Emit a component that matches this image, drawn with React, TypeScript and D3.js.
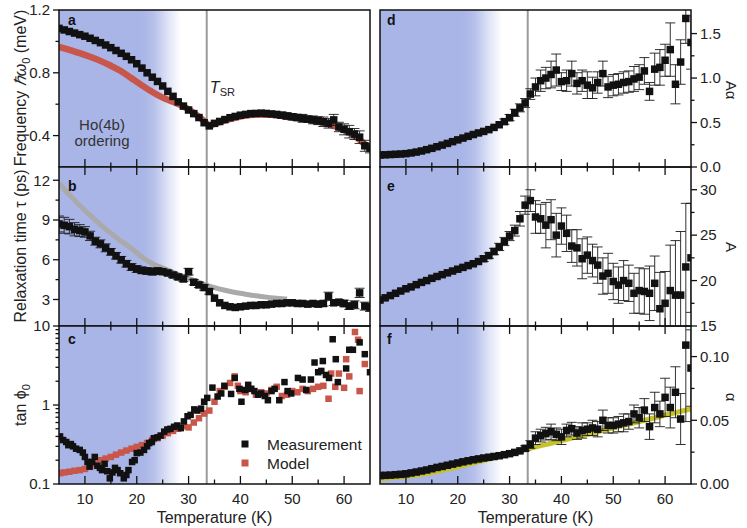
import React from 'react';
import * as d3 from 'd3';

// ---------- data ----------
const TEMPS = [5,6,7,8,9,10,11,12,13,14,15,16,17,18,19,20,21,22,23,24,25,26,27,28,29,30,31,32,33,34,35,36,37,38,39,40,41,42,43,44,45,46,47,48,49,50,51,52,53,54,55,56,57,58,59,60,61,62,63,64,65];

const A_MEAS = [1.083,1.073,1.063,1.053,1.043,1.033,1.020,1.006,0.992,0.977,
  0.960,0.942,0.924,0.905,0.883,0.858,0.830,0.800,0.772,0.745,
  0.716,0.682,0.650,0.615,0.588,0.563,0.540,0.515,0.482,0.462,
  0.478,0.490,0.502,0.514,0.522,0.530,0.535,0.540,0.541,0.543,
  0.541,0.538,0.535,0.530,0.525,0.520,0.515,0.510,0.505,0.500,
  0.495,0.488,0.478,0.500,0.455,0.440,0.425,0.410,0.390,0.335,0.320];
const A_ERR = [0.006,0.006,0.006,0.006,0.006,0.006,0.006,0.006,0.006,0.006,
  0.006,0.006,0.006,0.006,0.006,0.006,0.006,0.006,0.006,0.006,
  0.006,0.006,0.006,0.006,0.006,0.006,0.006,0.006,0.006,0.006,
  0.012,0.012,0.012,0.012,0.012,0.012,0.012,0.012,0.012,0.012,
  0.015,0.015,0.015,0.02,0.02,0.02,0.02,0.025,0.02,0.025,
  0.025,0.03,0.03,0.035,0.03,0.035,0.04,0.035,0.04,0.035,0.03];
const A_MODEL_T = [5,7,9,11,13,15,17,19,21,23,25,27,29,31,33,34,35,37,40,43,46,49,52,55,58,60,62,64,65];
const A_MODEL = [0.966,0.946,0.925,0.902,0.876,0.845,0.810,0.765,0.720,0.678,0.642,0.615,0.586,0.545,0.492,0.466,0.474,0.497,0.522,0.535,0.533,0.522,0.508,0.492,0.462,0.438,0.400,0.345,0.320];

const B_MEAS = [8.7,8.6,8.5,8.3,8.2,8.1,7.8,7.4,7.2,6.9,
  6.6,6.3,6.0,5.7,5.45,5.3,5.2,5.15,5.1,5.15,
  5.1,5.0,4.85,4.7,4.55,5.1,4.3,4.1,3.9,3.6,
  3.1,2.75,2.55,2.45,2.4,2.45,2.5,2.55,2.55,2.6,
  2.6,2.65,2.7,2.7,2.75,2.75,2.7,2.7,2.65,2.7,
  2.65,2.7,3.25,2.75,2.8,2.7,2.5,2.6,3.5,2.5,2.4];
const B_ERR = [0.6,0.6,0.55,0.5,0.45,0.4,0.35,0.3,0.3,0.3,
  0.25,0.25,0.25,0.25,0.25,0.25,0.25,0.25,0.25,0.25,
  0.2,0.2,0.2,0.2,0.2,0.25,0.2,0.2,0.2,0.2,
  0.15,0.15,0.15,0.15,0.15,0.15,0.15,0.15,0.15,0.15,
  0.15,0.15,0.15,0.15,0.15,0.15,0.15,0.15,0.15,0.15,
  0.2,0.2,0.3,0.2,0.2,0.25,0.25,0.3,0.35,0.3,0.3];
const B_MODEL_T = [5,7,9,11,13,15,17,19,21,23,25,27,29,31,33,35,37,39,41,43,45,47,49];
const B_MODEL = [11.8,10.9,10.1,9.35,8.65,8.0,7.4,6.85,6.2,5.7,5.38,5.05,4.73,4.45,4.15,3.9,3.7,3.53,3.4,3.28,3.18,3.1,3.03];

const C_MEAS_T = [5.2,5.8,6.4,6.8,7.3,7.7,8.3,9,9.6,10,
  10.5,10.9,11.4,11.9,12.4,12.9,13.3,13.8,14.3,14.8,
  15.3,15.8,16.3,16.8,17.5,18,18.4,19.1,19.6,20,
  20.7,21.4,22,22.4,22.9,23.3,24,24.6,25.3,25.9,
  26.5,27.2,27.8,28.5,29.1,29.8,30.4,31.1,31.7,32.4,
  33,33.6,34.6,35.6,36.3,36.9,38.2,38.9,39.8,40.2,
  40.9,41.5,42.1,42.7,43.4,44,44.7,45.3,46,46.6,
  47.5,48.5,49.1,49.8,51.1,52,52.7,53.6,54.3,55,
  55.6,55.9,56.5,57.1,57.8,58.4,58.8,60.4,61,61.7,
  63,64,65];
const C_MEAS = [0.40,0.36,0.34,0.31,0.32,0.30,0.28,0.27,0.25,0.22,
  0.19,0.166,0.19,0.22,0.17,0.16,0.15,0.18,0.145,0.118,
  0.14,0.16,0.15,0.137,0.118,0.13,0.15,0.19,0.2,0.246,
  0.25,0.27,0.3,0.33,0.34,0.38,0.39,0.41,0.46,0.49,
  0.5,0.53,0.55,0.51,0.62,0.72,0.75,0.88,0.85,0.90,
  1.1,1.23,1.66,1.28,1.4,1.75,1.38,2.2,1.6,1.1,
  1.55,1.8,1.6,1.5,1.35,1.4,1.3,1.15,1.5,1.6,
  1.15,1.95,1.5,1.4,2.2,2.1,1.55,2.1,3.45,2.6,
  2.7,3.6,2.4,2.2,6.8,3.8,1.95,2.9,5.0,5.0,
  6.2,4.4,2.6];
const C_MODEL_T = [5.2,6,7,8,9,10,11,12,13,14,
  15,16,17,18,19,20,21,22,23,24,
  25,26,27,28,29,30,31,32,33,34,
  35,36,37,38,38.9,39.5,40,
  41,42,43,44,45,46,47,48,49,50,51,52,53,54,55,56,57,
  57.5,58.3,59,60,60.4,61,62.1,62.7,63,64];
const C_MODEL = [0.137,0.14,0.143,0.147,0.15,0.155,0.165,0.18,0.2,0.21,
  0.22,0.235,0.25,0.265,0.28,0.295,0.31,0.33,0.36,0.38,
  0.41,0.44,0.47,0.5,0.54,0.52,0.6,0.68,0.78,0.85,
  1.1,1.5,1.7,1.9,2.3,1.75,1.5,
  1.45,1.6,1.35,1.45,1.4,1.55,1.7,1.3,1.35,1.5,1.45,1.6,1.5,1.6,1.7,1.75,1.2,
  2.5,1.7,2.5,1.65,3.8,2.3,8.4,6.7,1.5,3.3];

const D_MEAS = [0.135,0.137,0.14,0.143,0.146,0.15,0.158,0.168,0.18,0.195,
  0.21,0.228,0.246,0.265,0.285,0.305,0.325,0.345,0.365,0.383,
  0.40,0.42,0.445,0.475,0.51,0.555,0.61,0.665,0.72,0.82,
  0.9,0.97,1.0,1.04,1.09,0.96,0.97,1.05,0.94,0.97,
  0.92,0.89,0.95,1.05,0.9,0.92,0.93,0.95,0.96,0.99,
  1.01,1.08,0.85,1.1,1.12,1.2,1.32,0.93,1.18,1.67,1.4];
const D_ERR = [0.015,0.015,0.015,0.015,0.015,0.015,0.015,0.015,0.015,0.015,
  0.015,0.015,0.015,0.015,0.015,0.015,0.015,0.015,0.015,0.015,
  0.015,0.02,0.02,0.025,0.03,0.035,0.04,0.045,0.05,0.06,
  0.1,0.12,0.12,0.15,0.18,0.1,0.12,0.14,0.12,0.12,
  0.15,0.12,0.12,0.14,0.12,0.12,0.12,0.12,0.12,0.14,
  0.14,0.15,0.1,0.18,0.2,0.18,0.3,0.22,0.25,0.28,0.3];

const E_MEAS = [17.86,18.1,18.35,18.6,18.85,19.1,19.3,19.55,19.8,20.0,
  20.25,20.45,20.65,20.85,21.05,21.25,21.45,21.65,21.85,22.1,
  22.4,22.75,23.2,23.7,24.3,24.9,25.5,26.8,28.3,28.8,
  27.0,26.8,26.1,26.7,25.0,26.0,25.2,23.8,23.6,22.4,
  22.8,22.2,21.7,20.5,20.8,19.9,19.5,20.0,19.7,18.6,
  18.9,18.8,18.6,19.7,16.9,17.5,18.9,18.4,18.4,21.5,22.5];
const E_ERR = [0.25,0.25,0.25,0.25,0.25,0.25,0.25,0.25,0.25,0.25,
  0.25,0.25,0.25,0.25,0.25,0.25,0.25,0.25,0.25,0.25,
  0.3,0.3,0.35,0.4,0.45,0.5,0.6,0.8,1.0,1.2,
  1.8,1.6,2.5,2.2,2.4,2.0,2.0,1.8,2.0,2.2,
  2.0,1.8,2.0,2.0,2.2,2.0,2.0,2.2,2.0,2.2,
  2.5,2.5,3.0,3.0,4.0,3.5,5.0,6.0,7.0,7.0,6.0];

const F_MEAS = [0.0066,0.0068,0.007,0.0073,0.0076,0.008,0.0087,0.0094,0.0102,0.011,
  0.012,0.013,0.0138,0.0147,0.0156,0.0165,0.0174,0.0182,0.019,0.0197,
  0.0204,0.021,0.0216,0.0222,0.023,0.0238,0.0248,0.026,0.028,0.031,
  0.036,0.038,0.0395,0.041,0.039,0.037,0.042,0.0434,0.04,0.042,
  0.043,0.044,0.043,0.05,0.046,0.046,0.047,0.048,0.049,0.055,
  0.052,0.058,0.045,0.06,0.055,0.068,0.06,0.072,0.051,0.109,0.091];
const F_ERR = [0.0008,0.0008,0.0008,0.0008,0.0008,0.0008,0.0008,0.0008,0.0008,0.0008,
  0.0008,0.0008,0.0008,0.0008,0.0008,0.0008,0.0008,0.0008,0.0008,0.0008,
  0.0008,0.0008,0.0008,0.0008,0.001,0.001,0.0012,0.0015,0.002,0.003,
  0.005,0.005,0.005,0.006,0.005,0.006,0.005,0.005,0.005,0.006,
  0.005,0.006,0.006,0.008,0.006,0.006,0.006,0.007,0.006,0.007,
  0.008,0.009,0.01,0.012,0.01,0.015,0.016,0.02,0.02,0.06,0.03];
const F_MODEL_T = [5,10,15,20,25,30,34,38,42,47,52,57,62,65];
const F_MODEL = [0.004,0.006,0.009,0.0135,0.0185,0.0235,0.028,0.032,0.036,0.041,0.046,0.051,0.056,0.059];

const X_TICKS = [10,20,30,40,50,60];
const X_MINOR = [5,15,25,35,45,55,65];
const T_SR = 33.5;

// ---------- styles ----------
const FONT = '"Liberation Sans", Arial, Helvetica, sans-serif';
const BLUE = '#a9b5e7';
const RED = '#c8564b';
const GRAY_MODEL = '#aaaaaa';
const YELLOW = '#c6c22c';
const INK = '#111';
const MARK = 7.5;

type Panel = {
  id: string;
  side: 'L' | 'R';
  row: number;
  y: any;
  letter: string;
  major: number[];
  minor: number[];
  fmt: (v: number) => string;
};

export default function App() {
  const xL = d3.scaleLinear().domain([5, 65]).range([59, 370]);
  const xR = d3.scaleLinear().domain([5, 65]).range([380, 691]);
  const rows: [number, number][] = [[10, 167], [167, 326], [326, 484]];

  const yA = d3.scaleLinear().domain([0.2, 1.2]).range([rows[0][1], rows[0][0]]);
  const yB = d3.scaleLinear().domain([1, 13]).range([rows[1][1], rows[1][0]]);
  const yC = d3.scaleLog().domain([0.1, 10]).range([rows[2][1], rows[2][0]]);
  const yD = d3.scaleLinear().domain([0, 1.765]).range([rows[0][1], rows[0][0]]);
  const yE = d3.scaleLinear().domain([15, 32.5]).range([rows[1][1], rows[1][0]]);
  const yF = d3.scaleLinear().domain([0, 0.124]).range([rows[2][1], rows[2][0]]);

  const panels: Panel[] = [
    { id: 'a', side: 'L', row: 0, y: yA, letter: 'a', major: [0.4, 0.8, 1.2], minor: [0.6, 1.0], fmt: d3.format('.1f') },
    { id: 'b', side: 'L', row: 1, y: yB, letter: 'b', major: [3, 6, 9, 12], minor: [4.5, 7.5, 10.5], fmt: d3.format('d') },
    { id: 'c', side: 'L', row: 2, y: yC, letter: 'c', major: [0.1, 1, 10], minor: [0.2,0.3,0.4,0.5,0.6,0.7,0.8,0.9,2,3,4,5,6,7,8,9], fmt: (v) => (v === 0.1 ? '0.1' : String(v)) },
    { id: 'd', side: 'R', row: 0, y: yD, letter: 'd', major: [0, 0.5, 1.0, 1.5], minor: [0.25, 0.75, 1.25], fmt: d3.format('.1f') },
    { id: 'e', side: 'R', row: 1, y: yE, letter: 'e', major: [15, 20, 25, 30], minor: [17.5, 22.5, 27.5], fmt: d3.format('d') },
    { id: 'f', side: 'R', row: 2, y: yF, letter: 'f', major: [0, 0.05, 0.1], minor: [0.025, 0.075], fmt: d3.format('.2f') },
  ];

  const sq = (x: number, y: number, s: number, fill: string, key: string) => (
    <rect key={key} x={x - s / 2} y={y - s / 2} width={s} height={s} fill={fill} />
  );

  const errBars = (xs: any, ys: any, vals: number[], errs: number[], key: string) => (
    <g key={key} stroke="#1c1c1c" strokeWidth={0.9} fill="none">
      {TEMPS.map((t, i) => {
        const e = errs[i];
        const px = xs(t);
        const y1 = ys(vals[i] - e);
        const y2 = ys(vals[i] + e);
        if (Math.abs(y1 - y2) < 5) return null;
        return (
          <g key={i}>
            <line x1={px} x2={px} y1={y1} y2={y2} />
            <line x1={px - 5} x2={px + 5} y1={y1} y2={y1} />
            <line x1={px - 5} x2={px + 5} y1={y2} y2={y2} />
          </g>
        );
      })}
    </g>
  );

  const markers = (xs: any, ys: any, vals: number[], key: string) => (
    <g key={key}>{TEMPS.map((t, i) => sq(xs(t), ys(vals[i]), MARK, INK, key + i))}</g>
  );

  const line = (xs: any, ys: any, tt: number[], vv: number[]) =>
    d3.line<number>().x((_, i) => xs(tt[i])).y((v) => ys(v)).curve(d3.curveMonotoneX)(vv) || '';

  const content = (p: Panel) => {
    const xs = p.side === 'L' ? xL : xR;
    switch (p.id) {
      case 'a':
        return [
          <path key="m" d={line(xs, yA, A_MODEL_T, A_MODEL)} fill="none" stroke={RED} strokeWidth={6.5} />,
          errBars(xs, yA, A_MEAS, A_ERR, 'e'),
          markers(xs, yA, A_MEAS, 'p'),
        ];
      case 'b':
        return [
          <path key="m" d={line(xs, yB, B_MODEL_T, B_MODEL)} fill="none" stroke={GRAY_MODEL} strokeWidth={5} />,
          errBars(xs, yB, B_MEAS, B_ERR, 'e'),
          markers(xs, yB, B_MEAS, 'p'),
        ];
      case 'c':
        return [
          <g key="mod">{C_MODEL_T.map((t, i) => sq(xs(t), yC(C_MODEL[i]), 6.5, RED, 'r' + i))}</g>,
          <g key="meas">{C_MEAS_T.map((t, i) => sq(xs(t), yC(C_MEAS[i]), 6.5, INK, 'k' + i))}</g>,
        ];
      case 'd':
        return [errBars(xs, yD, D_MEAS, D_ERR, 'e'), markers(xs, yD, D_MEAS, 'p')];
      case 'e':
        return [errBars(xs, yE, E_MEAS, E_ERR, 'e'), markers(xs, yE, E_MEAS, 'p')];
      case 'f':
        return [
          <path key="m" d={line(xs, yF, F_MODEL_T, F_MODEL)} fill="none" stroke={YELLOW} strokeWidth={5} />,
          errBars(xs, yF, F_MEAS, F_ERR, 'e'),
          markers(xs, yF, F_MEAS, 'p'),
        ];
    }
    return null;
  };

  const renderPanel = (p: Panel) => {
    const xs = p.side === 'L' ? xL : xR;
    const [top, bot] = rows[p.row];
    const [x0, x1] = xs.range();
    const clipId = 'clip-' + p.id;
    const gradId = p.side === 'L' ? 'gradL' : 'gradR';
    const axisX = p.side === 'L' ? x0 : x1;
    const dir = p.side === 'L' ? -1 : 1;
    return (
      <g key={p.id}>
        <defs>
          <clipPath id={clipId}>
            <rect x={x0} y={top} width={x1 - x0} height={bot - top} />
          </clipPath>
        </defs>
        <g clipPath={`url(#${clipId})`}>
          <rect x={x0} y={top} width={xs(21) - x0} height={bot - top} fill={BLUE} />
          <rect x={xs(21) - 0.5} y={top} width={xs(28.5) - xs(21) + 0.5} height={bot - top} fill={`url(#${gradId})`} />
          <line x1={xs(T_SR)} x2={xs(T_SR)} y1={top} y2={bot} stroke="#9a9a9a" strokeWidth={2} />
          {content(p)}
        </g>
        <rect x={x0} y={top} width={x1 - x0} height={bot - top} fill="none" stroke={INK} strokeWidth={1.5} />
        <g stroke={INK} strokeWidth={1.3}>
          {X_TICKS.map((t) => (
            <line key={'b' + t} x1={xs(t)} x2={xs(t)} y1={bot} y2={bot - 8} />
          ))}
          {X_MINOR.filter((t) => t > 5 && t < 65).map((t) => (
            <line key={'bm' + t} x1={xs(t)} x2={xs(t)} y1={bot} y2={bot - 4.5} />
          ))}
          {p.row > 0 && X_TICKS.map((t) => (
            <line key={'t' + t} x1={xs(t)} x2={xs(t)} y1={top} y2={top + 8} />
          ))}
          {p.row > 0 && X_MINOR.filter((t) => t > 5 && t < 65).map((t) => (
            <line key={'tm' + t} x1={xs(t)} x2={xs(t)} y1={top} y2={top + 4.5} />
          ))}
        </g>
        <g stroke={INK} strokeWidth={1.3}>
          {p.major.map((v) => (
            <line key={'y' + v} x1={axisX} x2={axisX + dir * 6} y1={p.y(v)} y2={p.y(v)} />
          ))}
          {p.minor.map((v) => (
            <line key={'ym' + v} x1={axisX} x2={axisX + dir * 3.5} y1={p.y(v)} y2={p.y(v)} />
          ))}
        </g>
        <g fontFamily={FONT} fontSize={15} fill="#222">
          {p.major.map((v) => (
            <text
              key={'l' + v}
              x={axisX + dir * 9}
              y={p.y(v)}
              dy="0.35em"
              textAnchor={p.side === 'L' ? 'end' : 'start'}
            >
              {p.fmt(v)}
            </text>
          ))}
        </g>
        <text x={p.side === 'L' ? 68 : 387} y={top + (p.row === 0 ? 15 : p.row === 1 ? 24 : 18)} fontFamily={FONT} fontSize={14} fontWeight="bold" fill={INK}>
          {p.letter}
        </text>
      </g>
    );
  };

  const gradDef = (id: string, xs: any) => (
    <linearGradient id={id} gradientUnits="userSpaceOnUse" x1={xs(21)} x2={xs(28.5)} y1={0} y2={0}>
      <stop offset="0" stopColor={BLUE} stopOpacity={1} />
      <stop offset="0.3" stopColor={BLUE} stopOpacity={0.85} />
      <stop offset="0.65" stopColor={BLUE} stopOpacity={0.4} />
      <stop offset="1" stopColor={BLUE} stopOpacity={0} />
    </linearGradient>
  );

  return (
    <svg width={747} height={528} style={{ position: 'absolute', left: 0, top: 0, background: '#fff' }}>
      <defs>
        {gradDef('gradL', xL)}
        {gradDef('gradR', xR)}
      </defs>
      <rect x={0} y={0} width={747} height={528} fill="#fff" />
      {panels.map(renderPanel)}

      <g fontFamily={FONT} fill="#222">
        <text x={xL(T_SR) + 3} y={93} fontSize={16} fontStyle="italic">T</text>
        <text x={xL(T_SR) + 13} y={96} fontSize={11}>SR</text>
        <text x={102} y={130} fontSize={15} textAnchor="middle" fill="#333">Ho(4b)</text>
        <text x={102} y={146} fontSize={15} textAnchor="middle" fill="#333">ordering</text>

        <rect x={241.5} y={440.5} width={7} height={7} fill={INK} />
        <text x={267} y={449.5} fontSize={15.5}>Measurement</text>
        <rect x={241.5} y={459.5} width={7} height={7} fill={RED} />
        <text x={267} y={468.5} fontSize={15.5}>Model</text>

        {X_TICKS.map((t) => (
          <text key={'xl' + t} x={xL(t)} y={504} fontSize={15} textAnchor="middle">{t}</text>
        ))}
        {X_TICKS.map((t) => (
          <text key={'xr' + t} x={xR(t)} y={504} fontSize={15} textAnchor="middle">{t}</text>
        ))}
        <text x={(xL(5) + xL(65)) / 2} y={523} fontSize={16} textAnchor="middle">Temperature (K)</text>
        <text x={(xR(5) + xR(65)) / 2} y={523} fontSize={16} textAnchor="middle">Temperature (K)</text>

        <text transform="translate(26,88) rotate(-90)" fontSize={16} textAnchor="middle">
          Frequency <tspan fontStyle="italic">ℏω</tspan>
          <tspan fontSize={11} dy={4}>0</tspan>
          <tspan dy={-4}> (meV)</tspan>
        </text>
        <text transform="translate(26,246) rotate(-90)" fontSize={16} textAnchor="middle">
          Relaxation time τ (ps)
        </text>
        <text transform="translate(26,405) rotate(-90)" fontSize={16} textAnchor="middle">
          tan ϕ<tspan fontSize={11} dy={4}>0</tspan>
        </text>

        <text transform="translate(726,90) rotate(90)" fontSize={15} textAnchor="middle">Aα</text>
        <text transform="translate(726,247) rotate(90)" fontSize={15} textAnchor="middle">A</text>
        <text transform="translate(726,397) rotate(90)" fontSize={15} textAnchor="middle">α</text>
      </g>
    </svg>
  );
}
